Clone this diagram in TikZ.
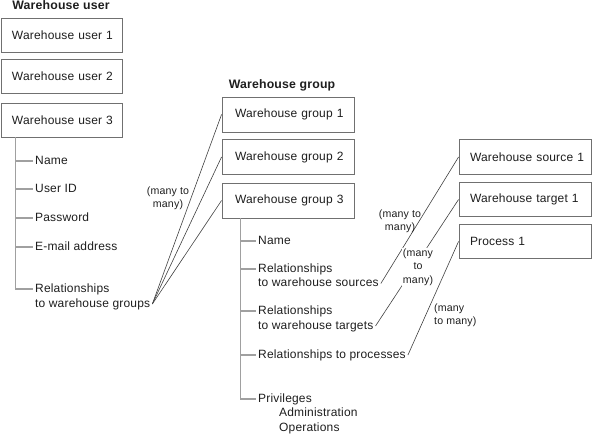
\documentclass[tikz,border=0pt]{standalone}
\usepackage{fontspec}
\setmainfont{Liberation Sans}[LetterSpace=1.5]
\definecolor{boxc}{HTML}{707070}
\definecolor{treec}{HTML}{A0A0A0}
\definecolor{linec}{HTML}{404040}
\definecolor{txtc}{HTML}{1E1E1E}
\tikzset{
  base/.style={font=\fontsize{12}{14}\selectfont, text=txtc},
  ttl/.style={font=\fontsize{12.3}{14}\bfseries, text=txtc, inner sep=0pt},
  boxbase/.style={base, draw=boxc, line width=0.9pt, fill=white, inner ysep=0pt, inner xsep=2pt, align=left},
  ubox/.style={boxbase, minimum height=34pt, text width=117pt, execute at begin node={\hspace*{9pt}}},
  gbox/.style={boxbase, minimum height=35pt, text width=128pt, execute at begin node={\hspace*{11pt}}},
  sbox/.style={boxbase, minimum height=34.5pt, text width=128pt, execute at begin node={\hspace*{9pt}}},
  item/.style={base, anchor=west, inner xsep=2pt, inner ysep=0pt, text height=9pt, text depth=2.5pt},
  tree/.style={draw=treec, line width=1.3pt},
  conn/.style={draw=linec, line width=0.6pt},
  mm/.style={font=\fontsize{10.6}{13.5}\selectfont, text=txtc, align=center, inner sep=1pt}
}
\begin{document}
\begin{tikzpicture}[x=1pt,y=-1pt]
\useasboundingbox (0,0) rectangle (592,435);
% Warehouse user column
\node[ttl] (tu) at (61,5.5) {Warehouse user};
\node[ubox] (u1) at (61.5,35) {Warehouse user 1};
\node[ubox] (u2) at (61.5,76) {Warehouse user 2};
\node[ubox] (u3) at (61.5,120) {Warehouse user 3};
\node[item] (un) at (33,161) {Name};
\node[item] (ui) at (33,189) {User ID};
\node[item] (up) at (33,218) {Password};
\node[item] (ue) at (33,247) {E-mail address};
\node[item] (ur1) at (33,289) {Relationships};
\node[item] (ur2) at (33,304) {to warehouse groups};
\coordinate (ut) at ([xshift=15pt]u3.south west);
\draw[tree] (ut) |- (ur1.west);
\foreach \n in {un,ui,up,ue} \draw[tree] (ut |- \n.west) -- (\n.west);
% Warehouse group column
\node[ttl] (tg) at (282,85) {Warehouse group};
\node[gbox] (g1) at (288,114.5) {Warehouse group 1};
\node[gbox] (g2) at (288,157) {Warehouse group 2};
\node[gbox] (g3) at (288,200.5) {Warehouse group 3};
\node[item] (gn) at (256,241) {Name};
\node[item] (gs1) at (256,269) {Relationships};
\node[item] (gs2) at (256,283.5) {to warehouse sources};
\node[item] (gt1) at (256,311) {Relationships};
\node[item] (gt2) at (256,326) {to warehouse targets};
\node[item] (gpr) at (256,355) {Relationships to processes};
\node[item] (gpv) at (256,399) {Privileges};
\node[item] (ga) at (277,413.5) {Administration};
\node[item] (go) at (277,428) {Operations};
\coordinate (gt) at ([xshift=19pt]g3.south west);
\draw[tree] (gt) |- (gpv.west);
\foreach \n in {gn,gs1,gt1,gpr} \draw[tree] (gt |- \n.west) -- (\n.west);
% right column
\node[sbox] (s1) at (525,157) {Warehouse source 1};
\node[sbox] (t1) at (525,199.5) {Warehouse target 1};
\node[sbox] (p1) at (525,241.5) {Process 1};
% connectors
\draw[conn] (ur2.east) -- (g1.west);
\draw[conn] (ur2.east) -- (g2.west);
\draw[conn] (ur2.east) -- (g3.west);
\draw[conn] (gs2.east) -- (s1.west);
\draw[conn] (gt2.east) -- (t1.west);
\draw[conn] (gpr.east) -- (p1.west);
% labels
\node[mm] (m1) at (168,198.5) {(many to\\many)};
\node[mm] (m2) at (400,221.5) {(many to\\many)};
\node[mm, fill=white] (m3) at (418,267) {(many\\to\\many)};
\node[mm, align=left, anchor=west] (m4) at (433,315.5) {(many\\to many)};
\end{tikzpicture}
\end{document}
